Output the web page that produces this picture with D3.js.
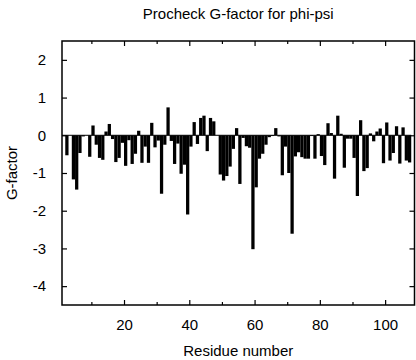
<!DOCTYPE html>
<html>
<head>
<meta charset="utf-8">
<script src="https://cdn.jsdelivr.net/npm/d3@7"></script>
<style>
  body { margin: 0; background: #fff; }
  svg { display: block; font-family: "Liberation Sans", Arial, sans-serif; }
</style>
</head>
<body>
<div id="chart"></div>
<script>
// G-factor per residue, residue 1..107
const residues = d3.range(1, 108);
const gfactor = [
  0, -0.53, 0, -1.17, -1.44, -0.47, -0.03, 0, -0.57, 0.26,
  -0.25, -0.6, -0.65, 0.1, 0.3, -0.1, -0.71, -0.6, -0.2, -0.81,
  -0.13, -0.76, -0.49, 0.12, -0.73, -0.3, -0.73, 0.33, -0.32, -0.14,
  -1.55, -0.25, 0.74, -0.15, -0.76, -0.22, -1.02, -0.78, -2.1, -0.3,
  0.35, -0.23, 0.46, 0.52, -0.42, 0.46, 0.37, 0, -1.04, -1.2,
  -1.08, -0.83, -0.36, 0.19, -1.29, -0.07, -0.29, -0.33, -3.02, -1.38,
  -0.62, -0.49, -0.25, -0.05, -0.02, 0.19, -0.03, -1.06, -0.3, -1.0,
  -2.61, -0.56, -0.45, -0.58, -0.62, -0.62, -0.02, -0.62, 0.03, -0.55,
  -0.79, 0.32, 0.06, -1.15, 0.52, 0.04, -0.86, -0.09, -0.09, -0.6,
  -1.61, 0.4, -0.95, -0.87, 0.05, -0.16, 0.1, 0.18, -0.74, 0.34,
  -0.67, -0.47, 0.24, -0.75, 0.21, -0.67, -0.72
];
const xTicks = [20, 40, 60, 80, 100];
const xMinorTicks = [10, 30, 50, 70, 90];
const yTicks = [2, 1, 0, -1, -2, -3, -4];

const W = 416, H = 360;
const margin = { top: 41, right: 1.5, bottom: 55, left: 62 };

const svg = d3.select("#chart").append("svg")
  .attr("width", W)
  .attr("height", H);

const x = d3.scaleLinear()
  .domain([1, 109])
  .range([margin.left, W - margin.right]);

const y = d3.scaleLinear()
  .domain([-4.5, 2.5])
  .range([H - margin.bottom, margin.top]);

// bars (step style, each residue spans [r, r+1])
svg.append("g")
  .selectAll("rect")
  .data(residues.map((r, i) => ({ r, v: gfactor[i] })))
  .join("rect")
  .attr("x", d => x(d.r))
  .attr("width", d => x(d.r + 1) - x(d.r))
  .attr("y", d => y(Math.max(0, d.v)))
  .attr("height", d => Math.abs(y(d.v) - y(0)))
  .attr("fill", "#000");

// zero line
svg.append("line")
  .attr("x1", x(1))
  .attr("x2", x(108))
  .attr("y1", y(0))
  .attr("y2", y(0))
  .attr("stroke", "#000")
  .attr("stroke-width", 1);

const fmt = d => String(d);

function styleAxis(g) {
  g.select(".domain").remove();
  g.selectAll("line").attr("stroke", "#000").attr("stroke-width", 1.2);
  g.selectAll("text")
    .attr("fill", "#000")
    .style("font-size", "15px")
    .style("font-family", "'Liberation Sans', Arial, sans-serif");
}

// bottom
svg.append("g")
  .attr("transform", `translate(0,${y(-4.5)})`)
  .call(d3.axisBottom(x).tickValues(xTicks).tickFormat(fmt).tickSize(-5).tickPadding(14))
  .call(styleAxis);
svg.append("g")
  .attr("transform", `translate(0,${y(-4.5)})`)
  .call(d3.axisBottom(x).tickValues(xMinorTicks).tickFormat("").tickSize(-3))
  .call(styleAxis);

// top
svg.append("g")
  .attr("transform", `translate(0,${y(2.5)})`)
  .call(d3.axisTop(x).tickValues(xTicks).tickFormat("").tickSize(-5))
  .call(styleAxis);
svg.append("g")
  .attr("transform", `translate(0,${y(2.5)})`)
  .call(d3.axisTop(x).tickValues(xMinorTicks).tickFormat("").tickSize(-3))
  .call(styleAxis);

// left
svg.append("g")
  .attr("transform", `translate(${x(1)},0)`)
  .call(d3.axisLeft(y).tickValues(yTicks).tickFormat(fmt).tickSize(-5).tickPadding(16))
  .call(styleAxis);

// right
svg.append("g")
  .attr("transform", `translate(${x(109)},0)`)
  .call(d3.axisRight(y).tickValues(yTicks).tickFormat("").tickSize(-5))
  .call(styleAxis);

// frame
svg.append("rect")
  .attr("x", x(1))
  .attr("y", y(2.5))
  .attr("width", x(109) - x(1))
  .attr("height", y(-4.5) - y(2.5))
  .attr("fill", "none")
  .attr("stroke", "#000")
  .attr("stroke-width", 1.5);

// titles
svg.append("text")
  .attr("x", (x(1) + x(109)) / 2)
  .attr("y", 19)
  .attr("text-anchor", "middle")
  .style("font-size", "15px")
  .text("Procheck G-factor for phi-psi");

svg.append("text")
  .attr("x", (x(1) + x(109)) / 2)
  .attr("y", 356)
  .attr("text-anchor", "middle")
  .style("font-size", "15px")
  .text("Residue number");

svg.append("text")
  .attr("transform", `translate(17,${(y(2.5) + y(-4.5)) / 2}) rotate(-90)`)
  .attr("text-anchor", "middle")
  .style("font-size", "15px")
  .text("G-factor");
</script>
</body>
</html>
